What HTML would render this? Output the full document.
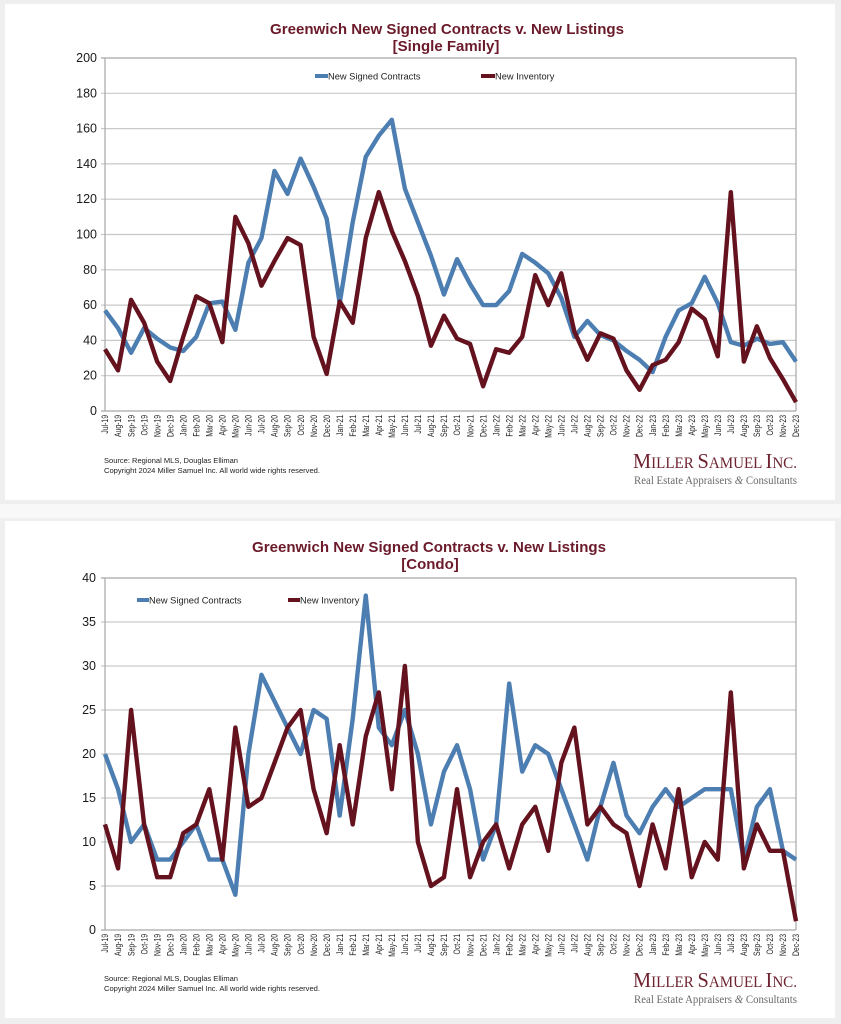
<!DOCTYPE html>
<html>
<head>
<meta charset="utf-8">
<style>
  html,body{margin:0;padding:0;background:#efefef;}
  body{width:841px;height:1024px;overflow:hidden;}
  svg{display:block;}
  .ax{font-family:"Liberation Sans",Arial,sans-serif;font-size:12.5px;fill:#1a1a1a;text-anchor:end;}
  .xl{font-family:"Liberation Sans",Arial,sans-serif;font-size:9px;fill:#1e1e1e;text-anchor:end;}
  .tt{font-family:"Liberation Sans",Arial,sans-serif;font-size:15px;font-weight:bold;fill:#6b1a2a;text-anchor:middle;}
  .lg{font-family:"Liberation Sans",Arial,sans-serif;font-size:9.3px;fill:#222;}
  .src{font-family:"Liberation Sans",Arial,sans-serif;font-size:7.6px;fill:#222;}
  .logo{font-family:"Liberation Serif","Times New Roman",serif;fill:#6e2430;}
  .tag{font-family:"Liberation Serif","Times New Roman",serif;font-size:11.5px;fill:#6a6a6a;}
  .grid line{stroke:#c9c9c9;stroke-width:1.2;}
  .ser{fill:none;stroke-width:4.4;stroke-linejoin:round;stroke-linecap:butt;}
</style>
</head>
<body>
<svg width="841" height="1024" viewBox="0 0 841 1024" xmlns="http://www.w3.org/2000/svg">
  <rect x="0" y="0" width="841" height="1024" fill="#efefef"/>
  <rect x="0" y="504" width="841" height="14" fill="#f8f8f8"/>
  <rect x="5" y="4" width="830" height="496" fill="#ffffff"/>
  <rect x="5" y="521" width="830" height="497" fill="#ffffff"/>

  <!-- ================= CHART 1 ================= -->
  <text class="tt" x="447" y="34" textLength="354" lengthAdjust="spacingAndGlyphs">Greenwich New Signed Contracts v. New Listings</text>
  <text class="tt" x="446" y="51">[Single Family]</text>

  <g class="grid">
    <line x1="101" y1="375.7" x2="796" y2="375.7"/>
    <line x1="101" y1="340.4" x2="796" y2="340.4"/>
    <line x1="101" y1="305.1" x2="796" y2="305.1"/>
    <line x1="101" y1="269.8" x2="796" y2="269.8"/>
    <line x1="101" y1="234.5" x2="796" y2="234.5"/>
    <line x1="101" y1="199.2" x2="796" y2="199.2"/>
    <line x1="101" y1="163.9" x2="796" y2="163.9"/>
    <line x1="101" y1="128.6" x2="796" y2="128.6"/>
    <line x1="101" y1="93.3" x2="796" y2="93.3"/>
    <line x1="101" y1="58" x2="796" y2="58" style="stroke:#a8a8a8"/>
  </g>
  <line x1="105" y1="58" x2="105" y2="411" stroke="#a8a8a8" stroke-width="1.2"/>
  <line x1="796" y1="58" x2="796" y2="411" stroke="#a8a8a8" stroke-width="1.2"/>
  <line x1="101" y1="411" x2="796" y2="411" stroke="#a8a8a8" stroke-width="1.2"/>

  <text class="ax" x="97" y="415">0</text>
  <text class="ax" x="97" y="379.7">20</text>
  <text class="ax" x="97" y="344.4">40</text>
  <text class="ax" x="97" y="309.1">60</text>
  <text class="ax" x="97" y="273.8">80</text>
  <text class="ax" x="97" y="238.5">100</text>
  <text class="ax" x="97" y="203.2">120</text>
  <text class="ax" x="97" y="167.9">140</text>
  <text class="ax" x="97" y="132.6">160</text>
  <text class="ax" x="97" y="97.3">180</text>
  <text class="ax" x="97" y="62">200</text>

  <line x1="315" y1="76" x2="328" y2="76" stroke="#4d7eb2" stroke-width="4"/>
  <text class="lg" x="328" y="79.5">New Signed Contracts</text>
  <line x1="481" y1="76" x2="495" y2="76" stroke="#65121f" stroke-width="4"/>
  <text class="lg" x="495" y="79.5">New Inventory</text>

  <g transform="translate(105,411) scale(13.0377,-1.765)">
    <polyline class="ser" vector-effect="non-scaling-stroke" stroke="#4d7eb2" points="0,57 1,47 2,33 3,47 4,41 5,36 6,34 7,42 8,61 9,62 10,46 11,84 12,98 13,136 14,123 15,143 16,127 17,109 18,61 19,107 20,144 21,156 22,165 23,126 24,107 25,88 26,66 27,86 28,72 29,60 30,60 31,68 32,89 33,84 34,78 35,64 36,42 37,51 38,43 39,40 40,34 41,29 42,22 43,42 44,57 45,61 46,76 47,61 48,39 49,37 50,41 51,38 52,39 53,28"/>
    <polyline class="ser" vector-effect="non-scaling-stroke" stroke="#65121f" points="0,35 1,23 2,63 3,50 4,28 5,17 6,42 7,65 8,61 9,39 10,110 11,95 12,71 13,85 14,98 15,94 16,42 17,21 18,62 19,50 20,98 21,124 22,102 23,85 24,65 25,37 26,54 27,41 28,38 29,14 30,35 31,33 32,42 33,77 34,60 35,78 36,45 37,29 38,44 39,41 40,23 41,12 42,26 43,29 44,39 45,58 46,52 47,31 48,124 49,28 50,48 51,30 52,18 53,5"/>
  </g>

  <g>
    <text class="xl" transform="translate(108.2,415) rotate(-90) scale(.76,1)">Jul-19</text>
    <text class="xl" transform="translate(121.2,415) rotate(-90) scale(.76,1)">Aug-19</text>
    <text class="xl" transform="translate(134.3,415) rotate(-90) scale(.76,1)">Sep-19</text>
    <text class="xl" transform="translate(147.3,415) rotate(-90) scale(.76,1)">Oct-19</text>
    <text class="xl" transform="translate(160.4,415) rotate(-90) scale(.76,1)">Nov-19</text>
    <text class="xl" transform="translate(173.4,415) rotate(-90) scale(.76,1)">Dec-19</text>
    <text class="xl" transform="translate(186.4,415) rotate(-90) scale(.76,1)">Jan-20</text>
    <text class="xl" transform="translate(199.5,415) rotate(-90) scale(.76,1)">Feb-20</text>
    <text class="xl" transform="translate(212.5,415) rotate(-90) scale(.76,1)">Mar-20</text>
    <text class="xl" transform="translate(225.5,415) rotate(-90) scale(.76,1)">Apr-20</text>
    <text class="xl" transform="translate(238.6,415) rotate(-90) scale(.76,1)">May-20</text>
    <text class="xl" transform="translate(251.6,415) rotate(-90) scale(.76,1)">Jun-20</text>
    <text class="xl" transform="translate(264.7,415) rotate(-90) scale(.76,1)">Jul-20</text>
    <text class="xl" transform="translate(277.7,415) rotate(-90) scale(.76,1)">Aug-20</text>
    <text class="xl" transform="translate(290.7,415) rotate(-90) scale(.76,1)">Sep-20</text>
    <text class="xl" transform="translate(303.8,415) rotate(-90) scale(.76,1)">Oct-20</text>
    <text class="xl" transform="translate(316.8,415) rotate(-90) scale(.76,1)">Nov-20</text>
    <text class="xl" transform="translate(329.8,415) rotate(-90) scale(.76,1)">Dec-20</text>
    <text class="xl" transform="translate(342.9,415) rotate(-90) scale(.76,1)">Jan-21</text>
    <text class="xl" transform="translate(355.9,415) rotate(-90) scale(.76,1)">Feb-21</text>
    <text class="xl" transform="translate(369,415) rotate(-90) scale(.76,1)">Mar-21</text>
    <text class="xl" transform="translate(382,415) rotate(-90) scale(.76,1)">Apr-21</text>
    <text class="xl" transform="translate(395,415) rotate(-90) scale(.76,1)">May-21</text>
    <text class="xl" transform="translate(408.1,415) rotate(-90) scale(.76,1)">Jun-21</text>
    <text class="xl" transform="translate(421.1,415) rotate(-90) scale(.76,1)">Jul-21</text>
    <text class="xl" transform="translate(434.1,415) rotate(-90) scale(.76,1)">Aug-21</text>
    <text class="xl" transform="translate(447.2,415) rotate(-90) scale(.76,1)">Sep-21</text>
    <text class="xl" transform="translate(460.2,415) rotate(-90) scale(.76,1)">Oct-21</text>
    <text class="xl" transform="translate(473.3,415) rotate(-90) scale(.76,1)">Nov-21</text>
    <text class="xl" transform="translate(486.3,415) rotate(-90) scale(.76,1)">Dec-21</text>
    <text class="xl" transform="translate(499.3,415) rotate(-90) scale(.76,1)">Jan-22</text>
    <text class="xl" transform="translate(512.4,415) rotate(-90) scale(.76,1)">Feb-22</text>
    <text class="xl" transform="translate(525.4,415) rotate(-90) scale(.76,1)">Mar-22</text>
    <text class="xl" transform="translate(538.4,415) rotate(-90) scale(.76,1)">Apr-22</text>
    <text class="xl" transform="translate(551.5,415) rotate(-90) scale(.76,1)">May-22</text>
    <text class="xl" transform="translate(564.5,415) rotate(-90) scale(.76,1)">Jun-22</text>
    <text class="xl" transform="translate(577.6,415) rotate(-90) scale(.76,1)">Jul-22</text>
    <text class="xl" transform="translate(590.6,415) rotate(-90) scale(.76,1)">Aug-22</text>
    <text class="xl" transform="translate(603.6,415) rotate(-90) scale(.76,1)">Sep-22</text>
    <text class="xl" transform="translate(616.7,415) rotate(-90) scale(.76,1)">Oct-22</text>
    <text class="xl" transform="translate(629.7,415) rotate(-90) scale(.76,1)">Nov-22</text>
    <text class="xl" transform="translate(642.7,415) rotate(-90) scale(.76,1)">Dec-22</text>
    <text class="xl" transform="translate(655.8,415) rotate(-90) scale(.76,1)">Jan-23</text>
    <text class="xl" transform="translate(668.8,415) rotate(-90) scale(.76,1)">Feb-23</text>
    <text class="xl" transform="translate(681.9,415) rotate(-90) scale(.76,1)">Mar-23</text>
    <text class="xl" transform="translate(694.9,415) rotate(-90) scale(.76,1)">Apr-23</text>
    <text class="xl" transform="translate(707.9,415) rotate(-90) scale(.76,1)">May-23</text>
    <text class="xl" transform="translate(721,415) rotate(-90) scale(.76,1)">Jun-23</text>
    <text class="xl" transform="translate(734,415) rotate(-90) scale(.76,1)">Jul-23</text>
    <text class="xl" transform="translate(747,415) rotate(-90) scale(.76,1)">Aug-23</text>
    <text class="xl" transform="translate(760.1,415) rotate(-90) scale(.76,1)">Sep-23</text>
    <text class="xl" transform="translate(773.1,415) rotate(-90) scale(.76,1)">Oct-23</text>
    <text class="xl" transform="translate(786.2,415) rotate(-90) scale(.76,1)">Nov-23</text>
    <text class="xl" transform="translate(799.2,415) rotate(-90) scale(.76,1)">Dec-23</text>
  </g>

  <text class="src" x="104" y="463" textLength="134" lengthAdjust="spacingAndGlyphs">Source: Regional MLS, Douglas Elliman</text>
  <text class="src" x="104" y="473" textLength="216" lengthAdjust="spacingAndGlyphs">Copyright 2024 Miller Samuel Inc.  All world wide rights reserved.</text>

  <text class="logo" x="633" y="468" textLength="164" lengthAdjust="spacingAndGlyphs"><tspan font-size="21">M</tspan><tspan font-size="15.5">ILLER </tspan><tspan font-size="21">S</tspan><tspan font-size="15.5">AMUEL </tspan><tspan font-size="21">I</tspan><tspan font-size="15.5">NC.</tspan></text>
  <text class="tag" x="634" y="484" textLength="163" lengthAdjust="spacingAndGlyphs">Real Estate Appraisers <tspan font-style="italic">&amp;</tspan> Consultants</text>

  <!-- ================= CHART 2 ================= -->
  <text class="tt" x="429" y="552" textLength="354" lengthAdjust="spacingAndGlyphs">Greenwich New Signed Contracts v. New Listings</text>
  <text class="tt" x="430" y="569">[Condo]</text>

  <g class="grid">
    <line x1="101" y1="886" x2="796" y2="886"/>
    <line x1="101" y1="842" x2="796" y2="842"/>
    <line x1="101" y1="798" x2="796" y2="798"/>
    <line x1="101" y1="754" x2="796" y2="754"/>
    <line x1="101" y1="710" x2="796" y2="710"/>
    <line x1="101" y1="666" x2="796" y2="666"/>
    <line x1="101" y1="622" x2="796" y2="622"/>
    <line x1="101" y1="578" x2="796" y2="578" style="stroke:#a8a8a8"/>
  </g>
  <line x1="105" y1="578" x2="105" y2="930" stroke="#a8a8a8" stroke-width="1.2"/>
  <line x1="796" y1="578" x2="796" y2="930" stroke="#a8a8a8" stroke-width="1.2"/>
  <line x1="101" y1="930" x2="796" y2="930" stroke="#a8a8a8" stroke-width="1.2"/>

  <text class="ax" x="96" y="934">0</text>
  <text class="ax" x="96" y="890">5</text>
  <text class="ax" x="96" y="846">10</text>
  <text class="ax" x="96" y="802">15</text>
  <text class="ax" x="96" y="758">20</text>
  <text class="ax" x="96" y="714">25</text>
  <text class="ax" x="96" y="670">30</text>
  <text class="ax" x="96" y="626">35</text>
  <text class="ax" x="96" y="582">40</text>

  <line x1="137" y1="600" x2="149" y2="600" stroke="#4d7eb2" stroke-width="4"/>
  <text class="lg" x="149" y="603.5">New Signed Contracts</text>
  <line x1="288" y1="600" x2="300" y2="600" stroke="#65121f" stroke-width="4"/>
  <text class="lg" x="300" y="603.5">New Inventory</text>

  <g transform="translate(105,930) scale(13.0377,-8.8)">
    <polyline class="ser" vector-effect="non-scaling-stroke" stroke="#4d7eb2" points="0,20 1,16 2,10 3,12 4,8 5,8 6,10 7,12 8,8 9,8 10,4 11,20 12,29 13,26 14,23 15,20 16,25 17,24 18,13 19,24 20,38 21,23 22,21 23,25 24,20 25,12 26,18 27,21 28,16 29,8 30,12 31,28 32,18 33,21 34,20 35,16 36,12 37,8 38,14 39,19 40,13 41,11 42,14 43,16 44,14 45,15 46,16 47,16 48,16 49,8 50,14 51,16 52,9 53,8"/>
    <polyline class="ser" vector-effect="non-scaling-stroke" stroke="#65121f" points="0,12 1,7 2,25 3,12 4,6 5,6 6,11 7,12 8,16 9,8 10,23 11,14 12,15 13,19 14,23 15,25 16,16 17,11 18,21 19,12 20,22 21,27 22,16 23,30 24,10 25,5 26,6 27,16 28,6 29,10 30,12 31,7 32,12 33,14 34,9 35,19 36,23 37,12 38,14 39,12 40,11 41,5 42,12 43,7 44,16 45,6 46,10 47,8 48,27 49,7 50,12 51,9 52,9 53,1"/>
  </g>

  <g>
    <text class="xl" transform="translate(108.2,934) rotate(-90) scale(.76,1)">Jul-19</text>
    <text class="xl" transform="translate(121.2,934) rotate(-90) scale(.76,1)">Aug-19</text>
    <text class="xl" transform="translate(134.3,934) rotate(-90) scale(.76,1)">Sep-19</text>
    <text class="xl" transform="translate(147.3,934) rotate(-90) scale(.76,1)">Oct-19</text>
    <text class="xl" transform="translate(160.4,934) rotate(-90) scale(.76,1)">Nov-19</text>
    <text class="xl" transform="translate(173.4,934) rotate(-90) scale(.76,1)">Dec-19</text>
    <text class="xl" transform="translate(186.4,934) rotate(-90) scale(.76,1)">Jan-20</text>
    <text class="xl" transform="translate(199.5,934) rotate(-90) scale(.76,1)">Feb-20</text>
    <text class="xl" transform="translate(212.5,934) rotate(-90) scale(.76,1)">Mar-20</text>
    <text class="xl" transform="translate(225.5,934) rotate(-90) scale(.76,1)">Apr-20</text>
    <text class="xl" transform="translate(238.6,934) rotate(-90) scale(.76,1)">May-20</text>
    <text class="xl" transform="translate(251.6,934) rotate(-90) scale(.76,1)">Jun-20</text>
    <text class="xl" transform="translate(264.7,934) rotate(-90) scale(.76,1)">Jul-20</text>
    <text class="xl" transform="translate(277.7,934) rotate(-90) scale(.76,1)">Aug-20</text>
    <text class="xl" transform="translate(290.7,934) rotate(-90) scale(.76,1)">Sep-20</text>
    <text class="xl" transform="translate(303.8,934) rotate(-90) scale(.76,1)">Oct-20</text>
    <text class="xl" transform="translate(316.8,934) rotate(-90) scale(.76,1)">Nov-20</text>
    <text class="xl" transform="translate(329.8,934) rotate(-90) scale(.76,1)">Dec-20</text>
    <text class="xl" transform="translate(342.9,934) rotate(-90) scale(.76,1)">Jan-21</text>
    <text class="xl" transform="translate(355.9,934) rotate(-90) scale(.76,1)">Feb-21</text>
    <text class="xl" transform="translate(369,934) rotate(-90) scale(.76,1)">Mar-21</text>
    <text class="xl" transform="translate(382,934) rotate(-90) scale(.76,1)">Apr-21</text>
    <text class="xl" transform="translate(395,934) rotate(-90) scale(.76,1)">May-21</text>
    <text class="xl" transform="translate(408.1,934) rotate(-90) scale(.76,1)">Jun-21</text>
    <text class="xl" transform="translate(421.1,934) rotate(-90) scale(.76,1)">Jul-21</text>
    <text class="xl" transform="translate(434.1,934) rotate(-90) scale(.76,1)">Aug-21</text>
    <text class="xl" transform="translate(447.2,934) rotate(-90) scale(.76,1)">Sep-21</text>
    <text class="xl" transform="translate(460.2,934) rotate(-90) scale(.76,1)">Oct-21</text>
    <text class="xl" transform="translate(473.3,934) rotate(-90) scale(.76,1)">Nov-21</text>
    <text class="xl" transform="translate(486.3,934) rotate(-90) scale(.76,1)">Dec-21</text>
    <text class="xl" transform="translate(499.3,934) rotate(-90) scale(.76,1)">Jan-22</text>
    <text class="xl" transform="translate(512.4,934) rotate(-90) scale(.76,1)">Feb-22</text>
    <text class="xl" transform="translate(525.4,934) rotate(-90) scale(.76,1)">Mar-22</text>
    <text class="xl" transform="translate(538.4,934) rotate(-90) scale(.76,1)">Apr-22</text>
    <text class="xl" transform="translate(551.5,934) rotate(-90) scale(.76,1)">May-22</text>
    <text class="xl" transform="translate(564.5,934) rotate(-90) scale(.76,1)">Jun-22</text>
    <text class="xl" transform="translate(577.6,934) rotate(-90) scale(.76,1)">Jul-22</text>
    <text class="xl" transform="translate(590.6,934) rotate(-90) scale(.76,1)">Aug-22</text>
    <text class="xl" transform="translate(603.6,934) rotate(-90) scale(.76,1)">Sep-22</text>
    <text class="xl" transform="translate(616.7,934) rotate(-90) scale(.76,1)">Oct-22</text>
    <text class="xl" transform="translate(629.7,934) rotate(-90) scale(.76,1)">Nov-22</text>
    <text class="xl" transform="translate(642.7,934) rotate(-90) scale(.76,1)">Dec-22</text>
    <text class="xl" transform="translate(655.8,934) rotate(-90) scale(.76,1)">Jan-23</text>
    <text class="xl" transform="translate(668.8,934) rotate(-90) scale(.76,1)">Feb-23</text>
    <text class="xl" transform="translate(681.9,934) rotate(-90) scale(.76,1)">Mar-23</text>
    <text class="xl" transform="translate(694.9,934) rotate(-90) scale(.76,1)">Apr-23</text>
    <text class="xl" transform="translate(707.9,934) rotate(-90) scale(.76,1)">May-23</text>
    <text class="xl" transform="translate(721,934) rotate(-90) scale(.76,1)">Jun-23</text>
    <text class="xl" transform="translate(734,934) rotate(-90) scale(.76,1)">Jul-23</text>
    <text class="xl" transform="translate(747,934) rotate(-90) scale(.76,1)">Aug-23</text>
    <text class="xl" transform="translate(760.1,934) rotate(-90) scale(.76,1)">Sep-23</text>
    <text class="xl" transform="translate(773.1,934) rotate(-90) scale(.76,1)">Oct-23</text>
    <text class="xl" transform="translate(786.2,934) rotate(-90) scale(.76,1)">Nov-23</text>
    <text class="xl" transform="translate(799.2,934) rotate(-90) scale(.76,1)">Dec-23</text>
  </g>

  <text class="src" x="104" y="981" textLength="134" lengthAdjust="spacingAndGlyphs">Source: Regional MLS, Douglas Elliman</text>
  <text class="src" x="104" y="991" textLength="216" lengthAdjust="spacingAndGlyphs">Copyright 2024 Miller Samuel Inc.  All world wide rights reserved.</text>

  <text class="logo" x="633" y="987" textLength="164" lengthAdjust="spacingAndGlyphs"><tspan font-size="21">M</tspan><tspan font-size="15.5">ILLER </tspan><tspan font-size="21">S</tspan><tspan font-size="15.5">AMUEL </tspan><tspan font-size="21">I</tspan><tspan font-size="15.5">NC.</tspan></text>
  <text class="tag" x="634" y="1003" textLength="163" lengthAdjust="spacingAndGlyphs">Real Estate Appraisers <tspan font-style="italic">&amp;</tspan> Consultants</text>
</svg>
</body>
</html>
